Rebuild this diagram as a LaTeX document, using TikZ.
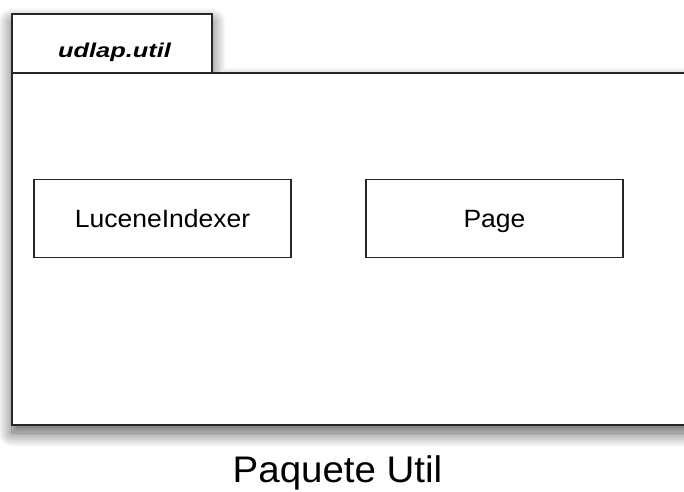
\documentclass[tikz,border=0pt]{standalone}
\usepackage{fontspec}
\setmainfont{Liberation Sans}
\usetikzlibrary{shadows.blur}
\begin{document}
\begin{tikzpicture}[x=1pt,y=-1pt,
  pkgframe/.style={draw=black!85, line width=2pt, fill=white, line join=miter,
    blur shadow={shadow xshift=0pt, shadow yshift=-8pt,
                 shadow blur radius=14pt, shadow opacity=65, shadow blur steps=20}},
  classbox/.style={draw=black!85, line width=1.6pt, fill=white,
    minimum width=257pt, minimum height=78pt, inner sep=0pt,
    text height=18pt, text depth=0pt,
    font=\fontsize{25}{30}\selectfont},
  tablabel/.style={anchor=base, font=\fontsize{20}{24}\selectfont\bfseries\itshape},
  caption/.style={anchor=base, font=\fontsize{37}{44}\selectfont}]
  \useasboundingbox (0,0) rectangle (684,491);

  % package outline: tab on top, body running past the right edge
  \path[pkgframe] (12,14) -- (212,14) -- (212,73) -- (720,73)
      -- (720,425) -- (12,425) -- cycle;
  \draw[black!85, line width=2pt] (12,73) -- (212,73);

  % package name in the tab
  \node[tablabel] (pkgname) at (114.5,57) {\scalebox{1.27}[1]{udlap.util}};

  % classes
  \node[classbox] (lucene) at (162.5,218.5) {\scalebox{1.06}[1]{LuceneIndexer}};
  \node[classbox] (page) at (494.5,218.5) {\scalebox{1.06}[1]{Page}};

  % caption
  \node[caption] (title) at (337.5,482) {\scalebox{1.04}[1]{Paquete Util}};
\end{tikzpicture}
\end{document}
